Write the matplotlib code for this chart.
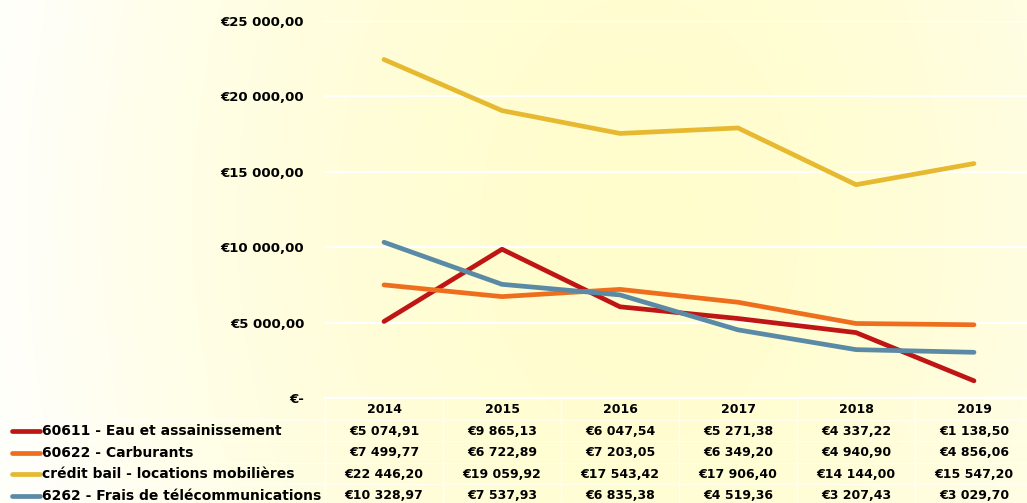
import numpy as np
import matplotlib.pyplot as plt
from matplotlib.transforms import blended_transform_factory

years = ['2014', '2015', '2016', '2017', '2018', '2019']
series_names = ['60611 - Eau et assainissement',
                '60622 - Carburants',
                'crédit bail - locations mobilières',
                '6262 - Frais de télécommunications']
eau = [5074.91, 9865.13, 6047.54, 5271.38, 4337.22, 1138.50]
carburants = [7499.77, 6722.89, 7203.05, 6349.20, 4940.90, 4856.06]
credit_bail = [22446.20, 19059.92, 17543.42, 17906.40, 14144.00, 15547.20]
telecom = [10328.97, 7537.93, 6835.38, 4519.36, 3207.43, 3029.70]
yticks = [0, 5000, 10000, 15000, 20000, 25000]

colors = ['#BF1515', '#EE6E1E', '#E6B930', '#5A8AA6']
all_series = [eau, carburants, credit_bail, telecom]

W, H = 1027, 503
plt.rcParams['font.family'] = 'DejaVu Sans'
plt.rcParams['font.weight'] = 'bold'

fig = plt.figure(figsize=(W / 100, H / 100), dpi=100)

# background gradient, yellow in the middle, near white to the left
bg = fig.add_axes([0, 0, 1, 1], zorder=-10)
yy, xx = np.mgrid[0:H, 0:W]
r = np.sqrt(((xx - 640) / 640.0) ** 2 + ((yy - 220) / 900.0) ** 2)
t = np.clip(r, 0, 1) ** 1.6
center = np.array([255, 253, 204]) / 255.0
edge = np.array([255, 255, 250]) / 255.0
img = center[None, None, :] * (1 - t[..., None]) + edge[None, None, :] * t[..., None]
bg.imshow(img, aspect='auto', extent=[0, 1, 0, 1])
bg.axis('off')


def fy(py):
    return 1 - py / H


ax = fig.add_axes([325 / W, fy(398), 708 / W, (398 - 21) / H])
ax.set_facecolor('none')
x = np.arange(len(years))
for vals, c in zip(all_series, colors):
    ax.plot(x, vals, color=c, lw=3.4, solid_capstyle='round', solid_joinstyle='round')

ax.set_xlim(-0.5, len(years) - 0.5)
ax.set_ylim(0, 25000)
ax.set_yticks(yticks)


def euro(v):
    if v == 0:
        return '€-'
    s = f'{v:,.2f}'.replace(',', ' ').replace('.', ',')
    return '€' + s


ax.set_yticklabels([euro(v) for v in yticks], fontsize=9.5, fontweight='bold')
ax.tick_params(axis='y', length=0, pad=15)
ax.set_xticks([])
ax.grid(axis='y', color='white', lw=1.6)
ax.set_axisbelow(True)
for s in ax.spines.values():
    s.set_visible(False)

# data table below the axes
tr = blended_transform_factory(ax.transData, fig.transFigure)
row_h = 21.5
top = 398
for i, yr in enumerate(years):
    fig.text(i, fy(top + row_h * 0.55), yr, transform=tr, ha='center', va='center',
             fontsize=9, fontweight='bold')
for j, (name, vals, c) in enumerate(zip(series_names, all_series, colors)):
    yc = fy(top + row_h * (j + 1.55))
    fig.text(42 / W, yc, name, ha='left', va='center', fontsize=10, fontweight='bold')
    fig.add_artist(plt.Line2D([12 / W, 40 / W], [yc, yc], color=c, lw=3.4,
                              solid_capstyle='round'))
    for i, v in enumerate(vals):
        fig.text(i, yc, euro(v), transform=tr, ha='center', va='center',
                 fontsize=9, fontweight='bold')

# table cell borders
for i in range(len(years) + 1):
    fig.add_artist(plt.Line2D([i - 0.5, i - 0.5], [fy(top), 0], transform=tr,
                              color='white', lw=1.0, alpha=0.8))
for j in range(1, 5):
    yb = fy(top + row_h * j)
    fig.add_artist(plt.Line2D([0, 1], [yb, yb], color='white', lw=0.8, alpha=0.6))
fig.add_artist(plt.Line2D([-0.5, len(years) - 0.5], [fy(top), fy(top)], transform=tr,
                          color='white', lw=1.6))

fig.savefig('out.png', dpi=100)
